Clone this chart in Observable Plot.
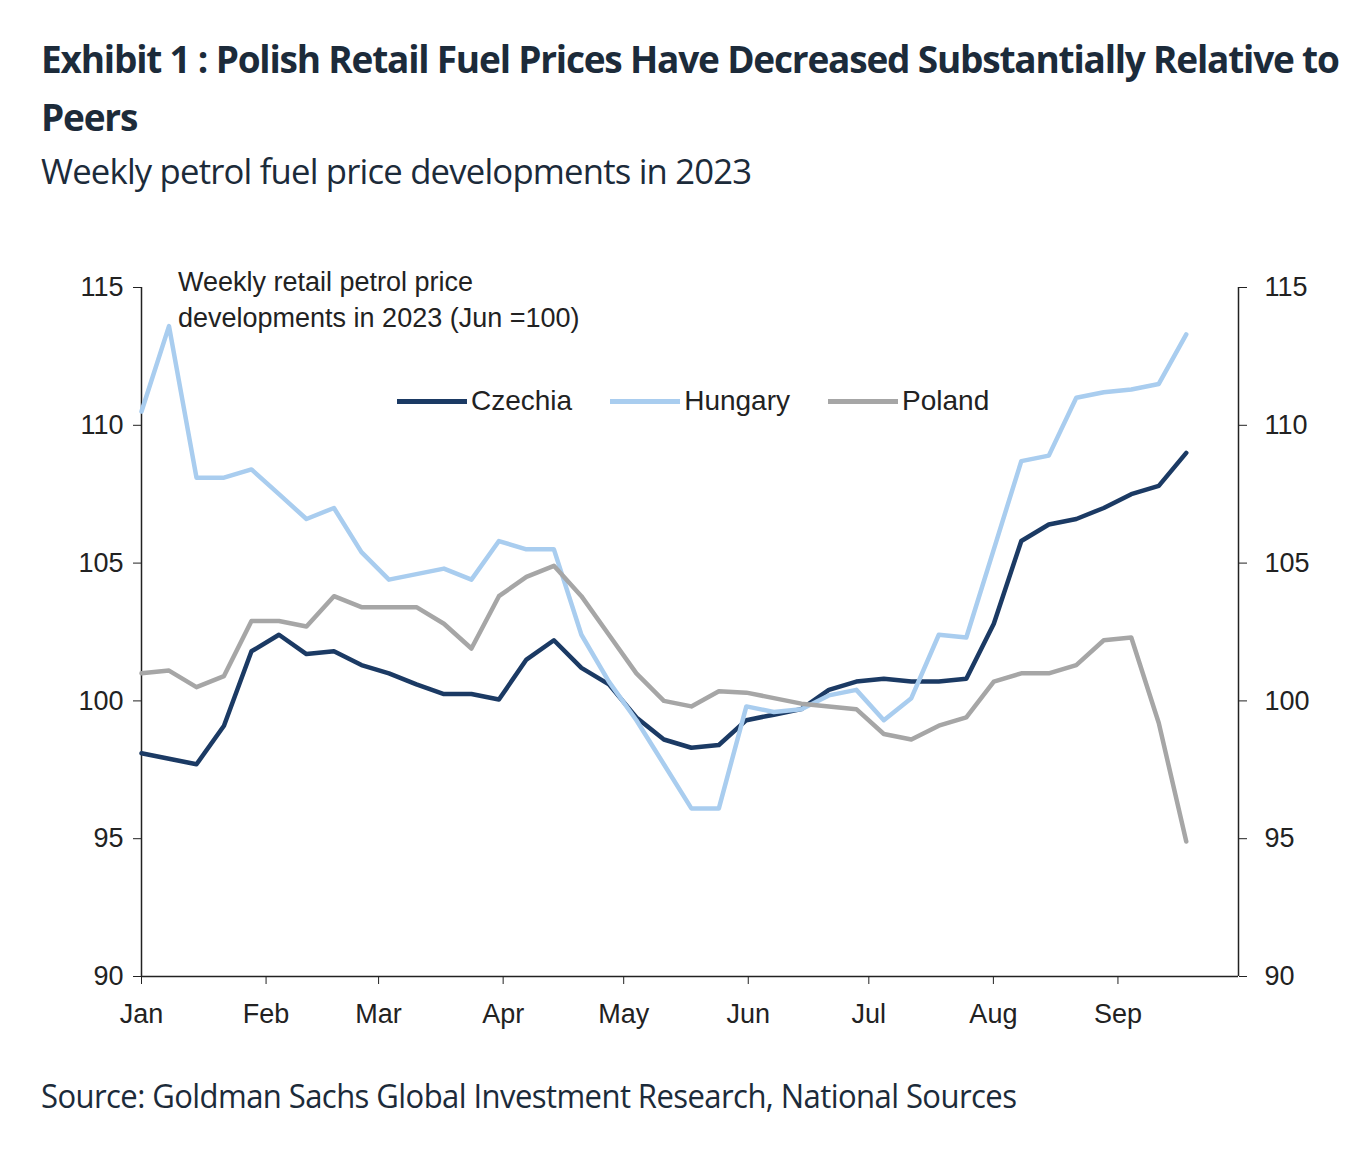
<!DOCTYPE html>
<html><head><meta charset="utf-8">
<script src="https://cdn.jsdelivr.net/npm/d3@7"></script>
<script src="https://cdn.jsdelivr.net/npm/@observablehq/plot@0.6"></script>
<style>
body{margin:0;background:#fff;font-family:"Open Sans",sans-serif;color:#1c2b3a;}
#wrap{position:relative;width:1372px;height:1176px;}
.t{position:absolute;left:41px;white-space:nowrap;}
#title{top:30px;font:700 37px/58px "Open Sans";letter-spacing:-1.2px;transform:scaleX(1.0);transform-origin:left;}
#sub{top:148px;font:400 34px "Open Sans";letter-spacing:-0.8px;transform:scaleX(1.02);transform-origin:left;}
#src{top:1074px;font:400 32px "Open Sans";letter-spacing:-0.6px;transform:scaleX(0.97);transform-origin:left;}
#chart{position:absolute;left:0;top:250px;}
#note{position:absolute;left:178px;top:264px;font:400 27px/36px Arial,"Liberation Sans";color:#222;}
#legend{position:absolute;left:397px;top:385px;font:400 28px Arial,"Liberation Sans";color:#222;display:flex;gap:8px;}
.li{display:flex;align-items:center;margin-right:30px}
.sw{width:70px;height:5px;margin-right:4px}
</style></head><body><div id="wrap">
<div class="t" id="title">Exhibit 1 : Polish Retail Fuel Prices Have Decreased Substantially Relative to<br>Peers</div>
<div class="t" id="sub">Weekly petrol fuel price developments in 2023</div>
<div id="chart"></div>
<div id="note">Weekly retail petrol price<br>developments in 2023 (Jun =100)</div>
<div id="legend"></div>
<div class="t" id="src">Source: Goldman Sachs Global Investment Research, National Sources</div>
</div>
<script>
const series = ["Czechia","Hungary","Poland"];
const colors = ["#1b3a64","#a9cdef","#a6a6a6"];
const czechia = [98.1,97.9,97.7,99.1,101.8,102.4,101.7,101.8,101.3,101.0,100.6,100.25,100.25,100.05,101.5,102.2,101.2,100.6,99.4,98.6,98.3,98.4,99.3,99.5,99.7,100.4,100.7,100.8,100.7,100.7,100.8,102.8,105.8,106.4,106.6,107.0,107.5,107.8,109.0];
const hungary = [110.5,113.6,108.1,108.1,108.4,107.5,106.6,107.0,105.4,104.4,104.6,104.8,104.4,105.8,105.5,105.5,102.4,100.7,99.3,97.7,96.1,96.1,99.8,99.6,99.7,100.2,100.4,99.3,100.1,102.4,102.3,105.5,108.7,108.9,111.0,111.2,111.3,111.5,113.3];
const poland = [101.0,101.1,100.5,100.9,102.9,102.9,102.7,103.8,103.4,103.4,103.4,102.8,101.9,103.8,104.5,104.9,103.8,102.4,101.0,100.0,99.8,100.35,100.3,100.1,99.9,99.8,99.7,98.8,98.6,99.1,99.4,100.7,101.0,101.0,101.3,102.2,102.3,99.2,94.9];
const monthLabels = ["Jan","Feb","Mar","Apr","May","Jun","Jul","Aug","Sep"];
const yTicks = [90,95,100,105,110,115];
const start = new Date(Date.UTC(2023,0,1)), end = new Date(Date.UTC(2023,8,18));
const n = czechia.length;
const dates = d3.range(n).map(i => new Date(+start + (end - start) * i / (n - 1)));
const vals = [czechia, hungary, poland];
const data = series.flatMap((s, k) => vals[k].map((v, i) => ({series: s, date: dates[i], value: v})));
const monthTicks = monthLabels.map((m, i) => new Date(Date.UTC(2023, i, 1)));
const fmt = d => monthLabels[d.getUTCMonth()];
const ax = {fontSize: 27, fontFamily: "Arial, 'Liberation Sans'", fill: "#222"};
const chart = Plot.plot({
  width: 1372, height: 800,
  marginLeft: 141, marginRight: 134, marginTop: 37, marginBottom: 74,
  style: {fontFamily: "Arial, 'Liberation Sans'", fontSize: "27px", color: "#222", background: "transparent"},
  x: {type: "utc", domain: [start, new Date(Date.UTC(2023,9,1))], range:[141, 1238]},
  y: {domain: [90, 115]},
  color: {domain: series, range: colors},
  marks: [
    Plot.ruleX([start], {stroke: "#222", strokeWidth: 1.5}),
    Plot.ruleX([new Date(Date.UTC(2023,9,1))], {stroke: "#222", strokeWidth: 1.5}),
    Plot.ruleY([90], {stroke: "#222", strokeWidth: 1.5}),
    Plot.axisY({anchor: "left", ticks: yTicks, tickSize: 8, tickPadding: 10, label: null, ...ax}),
    Plot.axisY({anchor: "right", ticks: yTicks, tickSize: 8, tickPadding: 18, label: null, ...ax}),
    Plot.axisX({ticks: monthTicks, tickFormat: fmt, tickSize: 8, tickPadding: 19, label: null, ...ax}),
    Plot.line(data, {x: "date", y: "value", z: "series", stroke: "series", strokeWidth: 4.5, curve: "linear"})
  ]
});
document.getElementById("chart").appendChild(chart);
const lg = document.getElementById("legend");
series.forEach((s, k) => {
  const d = document.createElement("div"); d.className = "li";
  d.innerHTML = `<span class="sw" style="background:${colors[k]}"></span>${s}`;
  lg.appendChild(d);
});
</script></body></html>
